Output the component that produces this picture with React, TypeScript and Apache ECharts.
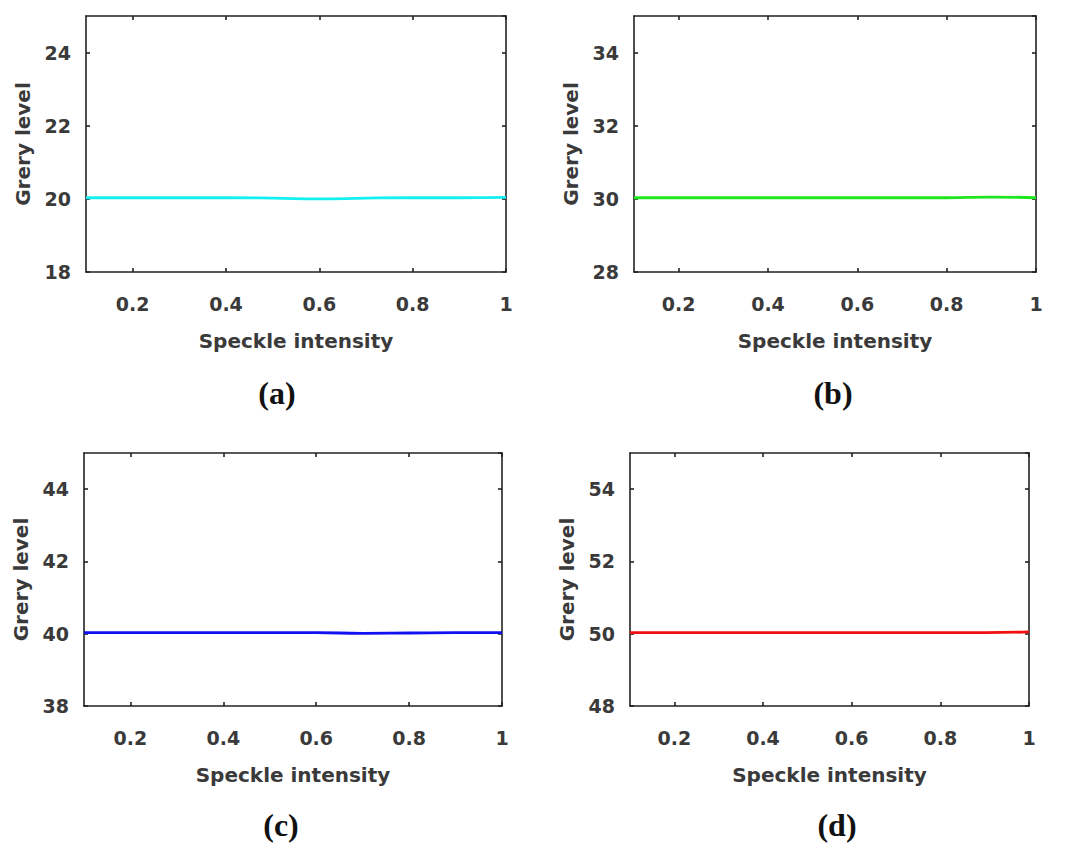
import React, { useEffect, useRef } from "react";
import * as echarts from "echarts";

const xValues = [0.1, 0.2, 0.3, 0.4, 0.5, 0.6, 0.7, 0.8, 0.9, 1.0];
const xTicks = [0.2, 0.4, 0.6, 0.8, 1];
const seriesA = [20.03, 20.03, 20.03, 20.03, 20.02, 20.0, 20.02, 20.03, 20.03, 20.04];
const seriesB = [30.03, 30.03, 30.03, 30.03, 30.03, 30.03, 30.03, 30.03, 30.05, 30.03];
const seriesC = [40.03, 40.03, 40.03, 40.03, 40.03, 40.03, 40.01, 40.02, 40.03, 40.03];
const seriesD = [50.03, 50.03, 50.03, 50.03, 50.03, 50.03, 50.03, 50.03, 50.03, 50.05];
const yRanges = [
  [18, 25],
  [28, 35],
  [38, 45],
  [48, 55],
];
const panelLabels = ["(a)", "(b)", "(c)", "(d)"];
const colors = ["#14f0f0", "#1ee61e", "#1010f0", "#f01010"];
const xName = "Speckle intensity";
const yName = "Grery level";

const grids = [
  { left: 86, top: 16, width: 420, height: 256 },
  { left: 634, top: 16, width: 402, height: 256 },
  { left: 84, top: 453, width: 418, height: 253 },
  { left: 630, top: 453, width: 399, height: 253 },
];
const labelPos = [
  [277, 393],
  [833, 393],
  [281, 825],
  [837, 825],
];

const FONT = "DejaVu Sans";
const TXT = "#3a3a3a";

export default function App() {
  const ref = useRef<HTMLDivElement>(null);
  useEffect(() => {
    const chart = echarts.init(ref.current!, null, { renderer: "svg" });
    const allSeries = [seriesA, seriesB, seriesC, seriesD];
    const xAxis: any[] = [];
    const yAxis: any[] = [];
    const series: any[] = [];
    grids.forEach((g, i) => {
      const lineStyle = { color: "#222", width: 1.6 };
      xAxis.push({
        type: "value",
        gridIndex: i,
        min: 0.1,
        max: 1,
        position: "bottom",
        name: xName,
        nameLocation: "middle",
        nameGap: 59,
        nameTextStyle: { fontFamily: FONT, fontWeight: "bold", fontSize: 20, color: TXT },
        axisLine: { show: true, lineStyle },
        axisTick: { show: true, inside: true, length: 4, customValues: xTicks, lineStyle },
        axisLabel: {
          customValues: xTicks,
          margin: 22,
          fontFamily: FONT,
          fontWeight: "bold",
          fontSize: 19,
          color: TXT,
          formatter: (v: number) => String(v),
        },
        splitLine: { show: false },
      });
      xAxis.push({
        type: "value",
        gridIndex: i,
        min: 0.1,
        max: 1,
        position: "top",
        axisLine: { show: true, lineStyle },
        axisTick: { show: true, inside: true, length: 4, customValues: xTicks, lineStyle },
        axisLabel: { show: false },
        splitLine: { show: false },
      });
      yAxis.push({
        type: "value",
        gridIndex: i,
        min: yRanges[i][0],
        max: yRanges[i][1],
        interval: 2,
        position: "left",
        name: yName,
        nameLocation: "middle",
        nameGap: 53,
        nameTextStyle: { fontFamily: FONT, fontWeight: "bold", fontSize: 20, color: TXT },
        axisLine: { show: true, lineStyle },
        axisTick: { show: true, inside: true, length: 4, lineStyle },
        axisLabel: {
          showMaxLabel: false,
          margin: 15,
          fontFamily: FONT,
          fontWeight: "bold",
          fontSize: 19,
          color: TXT,
        },
        splitLine: { show: false },
      });
      yAxis.push({
        type: "value",
        gridIndex: i,
        min: yRanges[i][0],
        max: yRanges[i][1],
        interval: 2,
        position: "right",
        axisLine: { show: true, lineStyle },
        axisTick: { show: true, inside: true, length: 4, lineStyle },
        axisLabel: { show: false },
        splitLine: { show: false },
      });
      series.push({
        type: "line",
        xAxisIndex: i * 2,
        yAxisIndex: i * 2,
        data: xValues.map((x, k) => [x, allSeries[i][k]]),
        showSymbol: false,
        smooth: true,
        lineStyle: { color: colors[i], width: 2.8 },
        itemStyle: { color: colors[i] },
      });
    });
    chart.setOption({
      animation: false,
      backgroundColor: "#ffffff",
      grid: grids.map((g) => ({ ...g, containLabel: false })),
      xAxis,
      yAxis,
      series,
      graphic: panelLabels.map((t, i) => ({
        type: "text",
        x: labelPos[i][0],
        y: labelPos[i][1],
        style: {
          text: t,
          fontFamily: "Liberation Serif",
          fontWeight: "bold",
          fontSize: 32,
          fill: "#111",
          textAlign: "center",
          textVerticalAlign: "middle",
        },
      })),
    });
    return () => chart.dispose();
  }, []);
  return (
    <div
      ref={ref}
      style={{ position: "fixed", left: 0, top: 0, width: 1067, height: 847, background: "#fff" }}
    />
  );
}
